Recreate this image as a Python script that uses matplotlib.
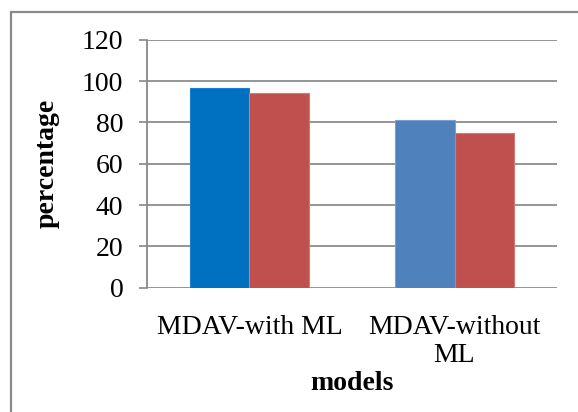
import numpy as np
import matplotlib.pyplot as plt
from matplotlib.patches import Rectangle

models = ['MDAV-with ML', 'MDAV-without\nML']
series_a = [96.5, 81]
series_b = [94.5, 75]
colors_a = ['#0070C0', '#4F81BD']
color_b = '#C0504D'
yticks = [0, 20, 40, 60, 80, 100, 120]

plt.rcParams['font.family'] = ['Liberation Serif', 'DejaVu Serif']

fig = plt.figure(figsize=(5.78, 4.12), dpi=100)
ax = fig.add_axes([0.2543, 0.3017, 0.7094, 0.6015])

x = np.arange(len(models))
w = 0.288
ax.bar(x - w / 2, series_a, w, color=colors_a, edgecolor=['#1a7fcc', '#7a9fd0'],
       linewidth=0.8, zorder=3)
ax.bar(x + w / 2, series_b, w, color=color_b, edgecolor='#d07a78',
       linewidth=0.8, zorder=3)

ax.set_xlim(-0.5, 1.5)
ax.set_ylim(0, 120)
ax.set_yticks(yticks)
ax.set_yticklabels([str(t) for t in yticks], fontsize=20)
ax.set_xticks(x)
ax.set_xticklabels(models, fontsize=20, linespacing=1.15)
ax.tick_params(axis='x', length=0, pad=20)
ax.tick_params(axis='y', length=6, width=1.2, color='#888888', pad=11)

ax.yaxis.grid(True, color='#8c8c8c', linewidth=1.3, zorder=0)
for side in ['top', 'right', 'bottom']:
    ax.spines[side].set_visible(False)
ax.spines['left'].set_color('#888888')
ax.spines['left'].set_linewidth(1.3)

ax.set_ylabel('percentage', fontsize=20, fontweight='bold')
ax.set_xlabel('models', fontsize=20, fontweight='bold')
ax.yaxis.set_label_coords(-0.213, 0.5)
ax.xaxis.set_label_coords(0.5, -0.335)

# chart area frame
fig.patches.append(Rectangle((11 / 578, -0.05), 1.1, 1 - 12 / 412 + 0.05,
                             transform=fig.transFigure, fill=False,
                             edgecolor='#8a8a8a', linewidth=1.6))

fig.savefig('out.png', dpi=100)
